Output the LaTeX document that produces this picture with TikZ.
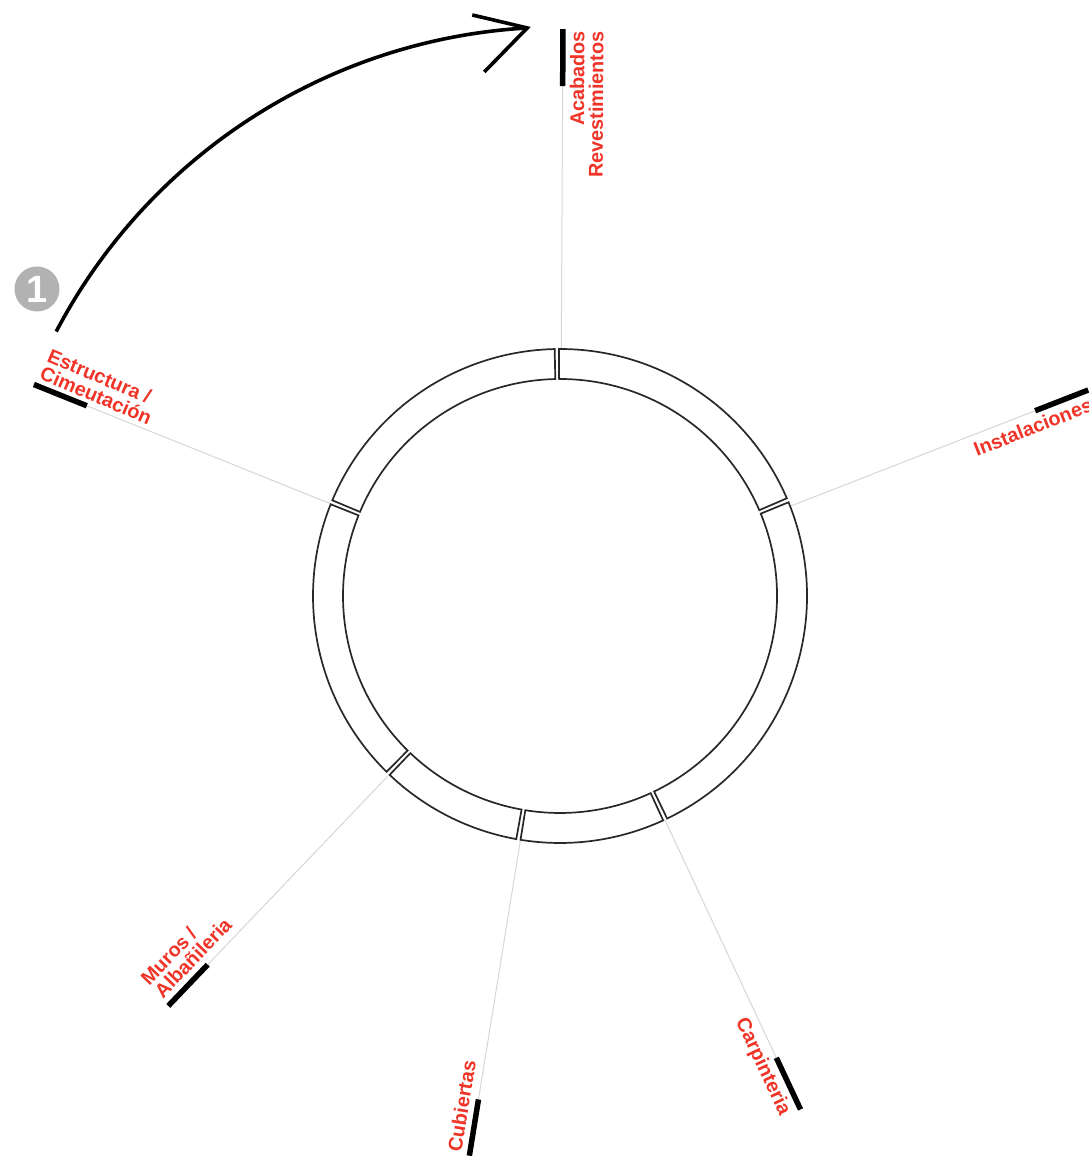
\documentclass[tikz,border=0pt]{standalone}
\usepackage{fontspec}
\setmainfont{Liberation Sans}
\usetikzlibrary{calc}
\definecolor{labred}{RGB}{240,52,40}
\definecolor{ringc}{RGB}{40,40,40}
\definecolor{leadc}{RGB}{215,215,215}
\definecolor{badgec}{RGB}{178,178,178}
\newcommand\ringsegment[2]{%
  \draw[ringseg] ($(c)+(#1+0.5:247)$) arc[start angle=#1+0.5,end angle=#2-0.5,radius=247]
    -- ($(c)+(#2-0.5:217)$) arc[start angle=#2-0.5,end angle=#1+0.5,radius=217] -- cycle;}
\newcommand\leaderline[2]{%
  \path (c) ++(#1:247) coordinate (#2s) (c) ++(#1:510) coordinate (#2b) (c) ++(#1:567) coordinate (#2t);
  \draw[leadline] (#2s) -- (#2b);
  \draw[leadbar] (#2b) -- (#2t);}
\begin{document}
\begin{tikzpicture}[x=1pt,y=1pt,
  ringseg/.style={draw=ringc,line width=1.7pt,fill=white,line join=miter},
  leadline/.style={draw=leadc,line width=1pt},
  leadbar/.style={draw=black,line width=5.5pt},
  lbl/.style={text=labred,font=\fontsize{19.8}{19}\selectfont\bfseries,inner sep=0pt},
  arrowline/.style={draw=black,line width=3.6pt,line join=miter},
]
\useasboundingbox[fill=white] (0,0) rectangle (1088,1156);
\coordinate (c) at (560,560);

% leaders
\leaderline{89.7}{aca}
\leaderline{21.3}{ins}
\leaderline{-64.9}{car}
\leaderline{-99.2}{cub}
\leaderline{226.3}{mur}
\leaderline{158.1}{est}

% ring
\ringsegment{22.8}{90.74}
\ringsegment{90.74}{157.7}
\ringsegment{157.7}{225.9}
\ringsegment{225.9}{260.3}
\ringsegment{260.3}{295.2}
\ringsegment{295.2}{382.8}

% labels (outward reading)
\node[lbl,rotate=89.7,anchor=north east,align=right] (acab) at ($(acat)+(-0.3:7)+(89.7:-2)$) {Acabados\\Revestimientos};
\node[lbl,rotate=21.3,anchor=north east,align=right] (inst) at ($(inst)+(-68.7:7)+(21.3:-2)$) {Instalaciones};
\node[lbl,rotate=-64.9,anchor=north east,align=right] (carp) at ($(cart)+(-154.9:7)+(-64.9:-2)$) {Carpinteria};
% labels (flipped)
\node[lbl,rotate=80.8,anchor=south west,align=left] (cubi) at ($(cubt)+(-189.2:8)+(-99.2:-2)$) {Cubiertas};
\node[lbl,rotate=46.3,anchor=south west,align=left] (muro) at ($(murt)+(136.3:8)+(226.3:-1)$) {Muros /\\Albañileria};
\node[lbl,rotate=-23,anchor=south west,align=left] (estr) at ($(estt)+(68.1:7)+(158.1:-2)$) {Estructura /\\Cimeutación};

% badge
\node[circle,fill=badgec,minimum size=45pt,inner sep=0pt,text=white,font=\fontsize{38}{38}\selectfont\bfseries] (badge) at (37,867) {1};

% arrow
\path (c) ++(152.3:569) coordinate (arrS);
\draw[arrowline] (arrS) arc[start angle=152.3,end angle=93.3,radius=569] coordinate (arrE);
\draw[arrowline] (arrE) ++(-55,13) -- (arrE) -- ++(-43,-44);
\end{tikzpicture}
\end{document}
